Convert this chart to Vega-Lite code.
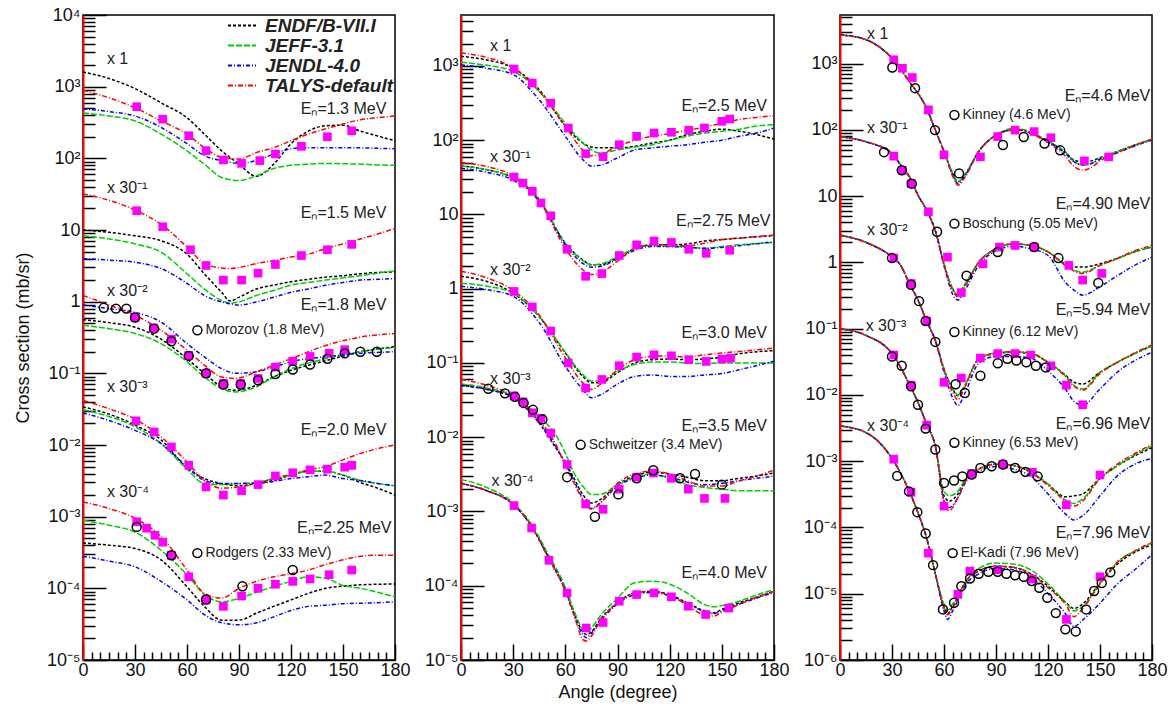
{
"$schema":"https://vega.github.io/schema/vega-lite/v6.json",
"padding":{"left":13,"top":5,"right":2,"bottom":2},
"background":"white",
"datasets":{
"curves":[
{"p":1,"e":"1.3","a":0,"E":1600,"J":430,"D":490,"T":890},
{"p":1,"e":"1.3","a":15,"E":1300,"J":390,"D":450,"T":700},
{"p":1,"e":"1.3","a":30,"E":940,"J":333,"D":390,"T":507},
{"p":1,"e":"1.3","a":45,"E":595,"J":218,"D":270,"T":333},
{"p":1,"e":"1.3","a":60,"E":368,"J":127,"D":160,"T":218},
{"p":1,"e":"1.3","a":70,"E":218,"J":83,"D":109,"T":141},
{"p":1,"e":"1.3","a":80,"E":127,"J":54,"D":93,"T":103},
{"p":1,"e":"1.3","a":90,"E":83,"J":49,"D":85,"T":98},
{"p":1,"e":"1.3","a":100,"E":56,"J":57,"D":93,"T":120},
{"p":1,"e":"1.3","a":110,"E":83,"J":72,"D":115,"T":141},
{"p":1,"e":"1.3","a":120,"E":160,"J":80,"D":136,"T":176},
{"p":1,"e":"1.3","a":130,"E":240,"J":83,"D":141,"T":218},
{"p":1,"e":"1.3","a":140,"E":285,"J":85,"D":141,"T":258},
{"p":1,"e":"1.3","a":150,"E":290,"J":84,"D":141,"T":302},
{"p":1,"e":"1.3","a":160,"E":240,"J":83,"D":140,"T":345},
{"p":1,"e":"1.3","a":170,"E":205,"J":81,"D":138,"T":370},
{"p":1,"e":"1.3","a":180,"E":176,"J":80,"D":136,"T":390},
{"p":1,"e":"1.5","a":0,"E":10,"J":8.3,"D":4.0,"T":32},
{"p":1,"e":"1.5","a":15,"E":9.3,"J":7.5,"D":3.8,"T":26},
{"p":1,"e":"1.5","a":30,"E":8.3,"J":6.4,"D":3.55,"T":19},
{"p":1,"e":"1.5","a":45,"E":7.1,"J":4.9,"D":2.9,"T":12},
{"p":1,"e":"1.5","a":60,"E":4.6,"J":2.45,"D":1.8,"T":5.8},
{"p":1,"e":"1.5","a":70,"E":2.45,"J":1.5,"D":1.22,"T":3.4},
{"p":1,"e":"1.5","a":80,"E":1.35,"J":1.04,"D":0.99,"T":2.95},
{"p":1,"e":"1.5","a":85,"E":1.02,"J":0.95,"D":0.93,"T":2.9},
{"p":1,"e":"1.5","a":90,"E":1.15,"J":0.99,"D":0.9,"T":3.0},
{"p":1,"e":"1.5","a":100,"E":1.5,"J":1.22,"D":0.99,"T":3.4},
{"p":1,"e":"1.5","a":110,"E":1.7,"J":1.43,"D":1.15,"T":3.75},
{"p":1,"e":"1.5","a":120,"E":1.9,"J":1.7,"D":1.35,"T":4.2},
{"p":1,"e":"1.5","a":130,"E":2.05,"J":1.85,"D":1.5,"T":4.6},
{"p":1,"e":"1.5","a":140,"E":2.2,"J":2.0,"D":1.7,"T":5.5},
{"p":1,"e":"1.5","a":150,"E":2.3,"J":2.15,"D":1.85,"T":6.4},
{"p":1,"e":"1.5","a":160,"E":2.45,"J":2.3,"D":2.0,"T":7.5},
{"p":1,"e":"1.5","a":170,"E":2.55,"J":2.5,"D":2.05,"T":8.8},
{"p":1,"e":"1.5","a":180,"E":2.6,"J":2.7,"D":2.1,"T":10.5},
{"p":1,"e":"1.8","a":0,"E":0.56,"J":0.47,"D":0.9,"T":1.22},
{"p":1,"e":"1.8","a":15,"E":0.51,"J":0.42,"D":0.8,"T":0.9},
{"p":1,"e":"1.8","a":30,"E":0.44,"J":0.36,"D":0.71,"T":0.65},
{"p":1,"e":"1.8","a":45,"E":0.30,"J":0.26,"D":0.52,"T":0.40},
{"p":1,"e":"1.8","a":60,"E":0.16,"J":0.145,"D":0.26,"T":0.21},
{"p":1,"e":"1.8","a":70,"E":0.10,"J":0.089,"D":0.17,"T":0.13},
{"p":1,"e":"1.8","a":80,"E":0.065,"J":0.061,"D":0.116,"T":0.089},
{"p":1,"e":"1.8","a":88,"E":0.058,"J":0.055,"D":0.10,"T":0.085},
{"p":1,"e":"1.8","a":100,"E":0.068,"J":0.065,"D":0.105,"T":0.105},
{"p":1,"e":"1.8","a":110,"E":0.089,"J":0.089,"D":0.122,"T":0.13},
{"p":1,"e":"1.8","a":120,"E":0.11,"J":0.116,"D":0.145,"T":0.16},
{"p":1,"e":"1.8","a":140,"E":0.15,"J":0.16,"D":0.17,"T":0.245},
{"p":1,"e":"1.8","a":160,"E":0.2,"J":0.2,"D":0.19,"T":0.32},
{"p":1,"e":"1.8","a":180,"E":0.235,"J":0.23,"D":0.2,"T":0.36},
{"p":1,"e":"2.0","a":0,"E":0.034,"J":0.031,"D":0.028,"T":0.042},
{"p":1,"e":"2.0","a":15,"E":0.027,"J":0.025,"D":0.022,"T":0.032},
{"p":1,"e":"2.0","a":30,"E":0.019,"J":0.018,"D":0.016,"T":0.023},
{"p":1,"e":"2.0","a":45,"E":0.0118,"J":0.0105,"D":0.0105,"T":0.013},
{"p":1,"e":"2.0","a":60,"E":0.0048,"J":0.0046,"D":0.005,"T":0.0058},
{"p":1,"e":"2.0","a":70,"E":0.0034,"J":0.0029,"D":0.0032,"T":0.0032},
{"p":1,"e":"2.0","a":80,"E":0.0029,"J":0.0028,"D":0.0029,"T":0.0025},
{"p":1,"e":"2.0","a":90,"E":0.0027,"J":0.0029,"D":0.0029,"T":0.0026},
{"p":1,"e":"2.0","a":100,"E":0.0029,"J":0.003,"D":0.0029,"T":0.0029},
{"p":1,"e":"2.0","a":110,"E":0.0032,"J":0.0034,"D":0.0031,"T":0.0034},
{"p":1,"e":"2.0","a":120,"E":0.0038,"J":0.0038,"D":0.0034,"T":0.0039},
{"p":1,"e":"2.0","a":130,"E":0.0043,"J":0.0043,"D":0.0036,"T":0.0045},
{"p":1,"e":"2.0","a":140,"E":0.0043,"J":0.0043,"D":0.0038,"T":0.005},
{"p":1,"e":"2.0","a":150,"E":0.0038,"J":0.0038,"D":0.0034,"T":0.0062},
{"p":1,"e":"2.0","a":160,"E":0.003,"J":0.0032,"D":0.0032,"T":0.0076},
{"p":1,"e":"2.0","a":170,"E":0.0025,"J":0.0029,"D":0.0029,"T":0.0089},
{"p":1,"e":"2.0","a":180,"E":0.002,"J":0.0027,"D":0.0027,"T":0.01},
{"p":1,"e":"2.25","a":0,"E":4.3e-4,"J":8.9e-4,"D":2.8e-4,"T":1.6e-3},
{"p":1,"e":"2.25","a":15,"E":4.0e-4,"J":7.6e-4,"D":2.4e-4,"T":1.3e-3},
{"p":1,"e":"2.25","a":30,"E":3.6e-4,"J":6.1e-4,"D":2.0e-4,"T":9.5e-4},
{"p":1,"e":"2.25","a":45,"E":2.5e-4,"J":3.4e-4,"D":1.25e-4,"T":5.3e-4},
{"p":1,"e":"2.25","a":60,"E":1.05e-4,"J":1.55e-4,"D":6.9e-5,"T":1.8e-4},
{"p":1,"e":"2.25","a":70,"E":5.6e-5,"J":8.2e-5,"D":4.3e-5,"T":8.5e-5},
{"p":1,"e":"2.25","a":80,"E":3.6e-5,"J":6.5e-5,"D":3.3e-5,"T":7.3e-5},
{"p":1,"e":"2.25","a":90,"E":3.6e-5,"J":7.2e-5,"D":3.1e-5,"T":1.0e-4},
{"p":1,"e":"2.25","a":100,"E":4.5e-5,"J":8.8e-5,"D":3.3e-5,"T":1.25e-4},
{"p":1,"e":"2.25","a":110,"E":5.6e-5,"J":1.06e-4,"D":4.0e-5,"T":1.45e-4},
{"p":1,"e":"2.25","a":120,"E":6.9e-5,"J":1.25e-4,"D":4.9e-5,"T":1.6e-4},
{"p":1,"e":"2.25","a":130,"E":8.5e-5,"J":1.45e-4,"D":5.6e-5,"T":1.8e-4},
{"p":1,"e":"2.25","a":140,"E":1.0e-4,"J":1.38e-4,"D":5.8e-5,"T":2.15e-4},
{"p":1,"e":"2.25","a":150,"E":1.07e-4,"J":1.1e-4,"D":6.1e-5,"T":2.5e-4},
{"p":1,"e":"2.25","a":160,"E":1.12e-4,"J":1.0e-4,"D":6.2e-5,"T":2.8e-4},
{"p":1,"e":"2.25","a":170,"E":1.14e-4,"J":8.8e-5,"D":6.3e-5,"T":2.9e-4},
{"p":1,"e":"2.25","a":180,"E":1.15e-4,"J":7.6e-5,"D":6.5e-5,"T":2.9e-4},
{"p":2,"e":"2.5","a":0,"E":1350,"J":1120,"D":1040,"T":1500},
{"p":2,"e":"2.5","a":15,"E":1200,"J":1020,"D":930,"T":1300},
{"p":2,"e":"2.5","a":30,"E":940,"J":850,"D":765,"T":950},
{"p":2,"e":"2.5","a":45,"E":480,"J":455,"D":350,"T":455},
{"p":2,"e":"2.5","a":60,"E":155,"J":170,"D":113,"T":155},
{"p":2,"e":"2.5","a":70,"E":92,"J":92,"D":55,"T":74},
{"p":2,"e":"2.5","a":75,"E":81,"J":74,"D":45,"T":62},
{"p":2,"e":"2.5","a":80,"E":79,"J":67,"D":46,"T":64},
{"p":2,"e":"2.5","a":90,"E":79,"J":74,"D":58,"T":83},
{"p":2,"e":"2.5","a":100,"E":83,"J":81,"D":74,"T":100},
{"p":2,"e":"2.5","a":110,"E":92,"J":87,"D":79,"T":113},
{"p":2,"e":"2.5","a":120,"E":100,"J":100,"D":83,"T":123},
{"p":2,"e":"2.5","a":130,"E":119,"J":113,"D":87,"T":136},
{"p":2,"e":"2.5","a":140,"E":132,"J":125,"D":94,"T":150},
{"p":2,"e":"2.5","a":150,"E":141,"J":132,"D":100,"T":170},
{"p":2,"e":"2.5","a":160,"E":132,"J":141,"D":113,"T":190},
{"p":2,"e":"2.5","a":170,"E":119,"J":155,"D":125,"T":203},
{"p":2,"e":"2.5","a":180,"E":104,"J":162,"D":146,"T":214},
{"p":2,"e":"2.75","a":0,"E":45,"J":45,"D":42,"T":50},
{"p":2,"e":"2.75","a":15,"E":40,"J":40,"D":37,"T":44},
{"p":2,"e":"2.75","a":30,"E":31,"J":31,"D":29,"T":33},
{"p":2,"e":"2.75","a":45,"E":15.8,"J":16,"D":15,"T":15.5},
{"p":2,"e":"2.75","a":60,"E":4.1,"J":4.1,"D":3.9,"T":3.5},
{"p":2,"e":"2.75","a":70,"E":2.45,"J":2.4,"D":2.2,"T":1.8},
{"p":2,"e":"2.75","a":75,"E":2.1,"J":2.1,"D":1.95,"T":1.55},
{"p":2,"e":"2.75","a":80,"E":2.1,"J":2.15,"D":2.0,"T":1.63},
{"p":2,"e":"2.75","a":90,"E":2.6,"J":2.7,"D":2.5,"T":2.35},
{"p":2,"e":"2.75","a":100,"E":3.5,"J":3.5,"D":3.3,"T":3.5},
{"p":2,"e":"2.75","a":110,"E":3.9,"J":3.8,"D":3.7,"T":3.9},
{"p":2,"e":"2.75","a":120,"E":3.9,"J":3.7,"D":3.7,"T":3.9},
{"p":2,"e":"2.75","a":130,"E":4.0,"J":3.7,"D":3.6,"T":3.8},
{"p":2,"e":"2.75","a":140,"E":4.4,"J":3.5,"D":3.5,"T":4.1},
{"p":2,"e":"2.75","a":150,"E":4.6,"J":3.7,"D":3.6,"T":4.6},
{"p":2,"e":"2.75","a":160,"E":4.8,"J":3.9,"D":3.8,"T":4.8},
{"p":2,"e":"2.75","a":180,"E":5.2,"J":4.2,"D":4.3,"T":5.3},
{"p":2,"e":"3.0","a":0,"E":1.47,"J":1.19,"D":1.08,"T":1.72},
{"p":2,"e":"3.0","a":15,"E":1.25,"J":1.08,"D":0.97,"T":1.4},
{"p":2,"e":"3.0","a":30,"E":0.87,"J":0.87,"D":0.79,"T":0.95},
{"p":2,"e":"3.0","a":45,"E":0.42,"J":0.42,"D":0.35,"T":0.44},
{"p":2,"e":"3.0","a":60,"E":0.136,"J":0.14,"D":0.09,"T":0.117},
{"p":2,"e":"3.0","a":70,"E":0.066,"J":0.07,"D":0.044,"T":0.054},
{"p":2,"e":"3.0","a":75,"E":0.054,"J":0.057,"D":0.034,"T":0.044},
{"p":2,"e":"3.0","a":80,"E":0.054,"J":0.057,"D":0.037,"T":0.051},
{"p":2,"e":"3.0","a":90,"E":0.074,"J":0.077,"D":0.052,"T":0.081},
{"p":2,"e":"3.0","a":100,"E":0.1,"J":0.096,"D":0.066,"T":0.111},
{"p":2,"e":"3.0","a":110,"E":0.111,"J":0.103,"D":0.069,"T":0.123},
{"p":2,"e":"3.0","a":120,"E":0.113,"J":0.103,"D":0.066,"T":0.125},
{"p":2,"e":"3.0","a":130,"E":0.111,"J":0.1,"D":0.066,"T":0.12},
{"p":2,"e":"3.0","a":140,"E":0.113,"J":0.098,"D":0.069,"T":0.129},
{"p":2,"e":"3.0","a":150,"E":0.12,"J":0.1,"D":0.072,"T":0.136},
{"p":2,"e":"3.0","a":160,"E":0.133,"J":0.1,"D":0.081,"T":0.143},
{"p":2,"e":"3.0","a":180,"E":0.147,"J":0.1,"D":0.106,"T":0.159},
{"p":2,"e":"3.5","a":0,"E":0.05,"J":0.052,"D":0.05,"T":0.06},
{"p":2,"e":"3.5","a":15,"E":0.044,"J":0.046,"D":0.044,"T":0.05},
{"p":2,"e":"3.5","a":30,"E":0.034,"J":0.036,"D":0.035,"T":0.036},
{"p":2,"e":"3.5","a":45,"E":0.0155,"J":0.019,"D":0.016,"T":0.017},
{"p":2,"e":"3.5","a":55,"E":0.0069,"J":0.0103,"D":0.0072,"T":0.0076},
{"p":2,"e":"3.5","a":60,"E":0.0046,"J":0.0061,"D":0.0045,"T":0.0041},
{"p":2,"e":"3.5","a":65,"E":0.0028,"J":0.0033,"D":0.0026,"T":0.0024},
{"p":2,"e":"3.5","a":70,"E":0.0017,"J":0.0022,"D":0.0015,"T":0.00144},
{"p":2,"e":"3.5","a":75,"E":0.0013,"J":0.0017,"D":0.0011,"T":0.00107},
{"p":2,"e":"3.5","a":80,"E":0.00144,"J":0.0017,"D":0.0013,"T":0.0013},
{"p":2,"e":"3.5","a":90,"E":0.0023,"J":0.0023,"D":0.0022,"T":0.0024},
{"p":2,"e":"3.5","a":100,"E":0.003,"J":0.0029,"D":0.0028,"T":0.0032},
{"p":2,"e":"3.5","a":110,"E":0.0034,"J":0.0032,"D":0.0031,"T":0.0035},
{"p":2,"e":"3.5","a":120,"E":0.0032,"J":0.0028,"D":0.0029,"T":0.0032},
{"p":2,"e":"3.5","a":130,"E":0.0029,"J":0.0023,"D":0.0025,"T":0.0026},
{"p":2,"e":"3.5","a":140,"E":0.0026,"J":0.0021,"D":0.0023,"T":0.0022},
{"p":2,"e":"3.5","a":150,"E":0.0026,"J":0.002,"D":0.0024,"T":0.0022},
{"p":2,"e":"3.5","a":160,"E":0.0028,"J":0.0019,"D":0.0026,"T":0.0026},
{"p":2,"e":"3.5","a":170,"E":0.003,"J":0.0019,"D":0.0028,"T":0.003},
{"p":2,"e":"3.5","a":180,"E":0.0033,"J":0.0019,"D":0.003,"T":0.0036},
{"p":2,"e":"4.0","a":0,"E":0.0024,"J":0.0027,"D":0.0024,"T":0.0024},
{"p":2,"e":"4.0","a":15,"E":0.0019,"J":0.0021,"D":0.0019,"T":0.0019},
{"p":2,"e":"4.0","a":30,"E":0.00125,"J":0.0013,"D":0.00125,"T":0.00125},
{"p":2,"e":"4.0","a":40,"E":6.6e-4,"J":7e-4,"D":6.6e-4,"T":6.6e-4},
{"p":2,"e":"4.0","a":50,"E":2.5e-4,"J":2.7e-4,"D":2.5e-4,"T":2.4e-4},
{"p":2,"e":"4.0","a":60,"E":8.9e-5,"J":9.5e-5,"D":8.5e-5,"T":8.5e-5},
{"p":2,"e":"4.0","a":65,"E":4.3e-5,"J":4.6e-5,"D":4.1e-5,"T":4.0e-5},
{"p":2,"e":"4.0","a":70,"E":2.4e-5,"J":2.6e-5,"D":2.2e-5,"T":1.9e-5},
{"p":2,"e":"4.0","a":72,"E":2.2e-5,"J":2.4e-5,"D":2.0e-5,"T":1.8e-5},
{"p":2,"e":"4.0","a":75,"E":2.4e-5,"J":2.7e-5,"D":2.3e-5,"T":2.1e-5},
{"p":2,"e":"4.0","a":80,"E":3.5e-5,"J":3.9e-5,"D":3.3e-5,"T":3.3e-5},
{"p":2,"e":"4.0","a":90,"E":5.9e-5,"J":6.8e-5,"D":5.7e-5,"T":6.0e-5},
{"p":2,"e":"4.0","a":100,"E":8e-5,"J":1.1e-4,"D":7.6e-5,"T":8e-5},
{"p":2,"e":"4.0","a":110,"E":8.4e-5,"J":1.15e-4,"D":8.1e-5,"T":8.4e-5},
{"p":2,"e":"4.0","a":120,"E":7.6e-5,"J":1.05e-4,"D":7.3e-5,"T":7.4e-5},
{"p":2,"e":"4.0","a":130,"E":5.9e-5,"J":8e-5,"D":5.7e-5,"T":5.5e-5},
{"p":2,"e":"4.0","a":140,"E":4.6e-5,"J":5.6e-5,"D":4.5e-5,"T":4.0e-5},
{"p":2,"e":"4.0","a":145,"E":4.3e-5,"J":5.2e-5,"D":4.2e-5,"T":3.9e-5},
{"p":2,"e":"4.0","a":150,"E":4.8e-5,"J":5.4e-5,"D":4.6e-5,"T":4.4e-5},
{"p":2,"e":"4.0","a":160,"E":5.9e-5,"J":6.2e-5,"D":5.7e-5,"T":5.6e-5},
{"p":2,"e":"4.0","a":170,"E":7e-5,"J":7.5e-5,"D":6.8e-5,"T":7e-5},
{"p":2,"e":"4.0","a":180,"E":8.4e-5,"J":8.9e-5,"D":8.2e-5,"T":8.4e-5},
{"p":3,"e":"4.6","a":0,"E":2700,"J":2700,"D":2750,"T":2700},
{"p":3,"e":"4.6","a":15,"E":2290,"J":2290,"D":2290,"T":2290},
{"p":3,"e":"4.6","a":30,"E":1200,"J":1200,"D":1200,"T":1200},
{"p":3,"e":"4.6","a":40,"E":534,"J":534,"D":534,"T":534},
{"p":3,"e":"4.6","a":50,"E":210,"J":210,"D":210,"T":210},
{"p":3,"e":"4.6","a":55,"E":99,"J":99,"D":99,"T":99},
{"p":3,"e":"4.6","a":60,"E":47,"J":47,"D":47,"T":47},
{"p":3,"e":"4.6","a":65,"E":22,"J":22,"D":21,"T":20},
{"p":3,"e":"4.6","a":68,"E":16.4,"J":16.4,"D":15.5,"T":14.6},
{"p":3,"e":"4.6","a":72,"E":21,"J":21,"D":20,"T":19},
{"p":3,"e":"4.6","a":80,"E":47,"J":47,"D":47,"T":47},
{"p":3,"e":"4.6","a":90,"E":83,"J":83,"D":83,"T":83},
{"p":3,"e":"4.6","a":100,"E":99,"J":105,"D":99,"T":99},
{"p":3,"e":"4.6","a":105,"E":99,"J":102,"D":99,"T":99},
{"p":3,"e":"4.6","a":110,"E":89,"J":92,"D":89,"T":89},
{"p":3,"e":"4.6","a":120,"E":66,"J":68,"D":66,"T":64},
{"p":3,"e":"4.6","a":130,"E":46,"J":46,"D":44,"T":40},
{"p":3,"e":"4.6","a":135,"E":35,"J":33,"D":33,"T":28},
{"p":3,"e":"4.6","a":140,"E":33,"J":29.5,"D":29.5,"T":24.6},
{"p":3,"e":"4.6","a":145,"E":34,"J":31,"D":31,"T":27},
{"p":3,"e":"4.6","a":150,"E":38,"J":37,"D":36,"T":34},
{"p":3,"e":"4.6","a":160,"E":47,"J":47,"D":45,"T":45},
{"p":3,"e":"4.6","a":170,"E":59,"J":59,"D":57,"T":58},
{"p":3,"e":"4.6","a":180,"E":72,"J":72,"D":70,"T":72},
{"p":3,"e":"4.90","a":0,"E":79,"J":79,"D":79,"T":79},
{"p":3,"e":"4.90","a":15,"E":66,"J":66,"D":66,"T":66},
{"p":3,"e":"4.90","a":30,"E":44,"J":44,"D":44,"T":44},
{"p":3,"e":"4.90","a":35,"E":29.5,"J":29.5,"D":29.5,"T":29.5},
{"p":3,"e":"4.90","a":40,"E":19.6,"J":19.6,"D":19.6,"T":19.6},
{"p":3,"e":"4.90","a":45,"E":10.3,"J":10.3,"D":10.3,"T":10.3},
{"p":3,"e":"4.90","a":50,"E":6.1,"J":6.1,"D":6.1,"T":6.1},
{"p":3,"e":"4.90","a":55,"E":3.0,"J":3.0,"D":3.0,"T":3.0},
{"p":3,"e":"4.90","a":60,"E":0.95,"J":0.95,"D":0.9,"T":0.9},
{"p":3,"e":"4.90","a":65,"E":0.4,"J":0.4,"D":0.33,"T":0.38},
{"p":3,"e":"4.90","a":68,"E":0.32,"J":0.33,"D":0.27,"T":0.3},
{"p":3,"e":"4.90","a":72,"E":0.45,"J":0.47,"D":0.38,"T":0.43},
{"p":3,"e":"4.90","a":80,"E":1.0,"J":1.0,"D":0.9,"T":1.0},
{"p":3,"e":"4.90","a":90,"E":1.6,"J":1.6,"D":1.5,"T":1.6},
{"p":3,"e":"4.90","a":100,"E":1.9,"J":1.9,"D":1.75,"T":1.9},
{"p":3,"e":"4.90","a":110,"E":1.8,"J":1.8,"D":1.6,"T":1.8},
{"p":3,"e":"4.90","a":120,"E":1.44,"J":1.44,"D":1.27,"T":1.44},
{"p":3,"e":"4.90","a":130,"E":0.95,"J":0.9,"D":0.5,"T":0.9},
{"p":3,"e":"4.90","a":135,"E":0.85,"J":0.76,"D":0.38,"T":0.74},
{"p":3,"e":"4.90","a":140,"E":0.85,"J":0.71,"D":0.32,"T":0.68},
{"p":3,"e":"4.90","a":150,"E":0.95,"J":0.9,"D":0.43,"T":0.9},
{"p":3,"e":"4.90","a":160,"E":1.15,"J":1.13,"D":0.63,"T":1.15},
{"p":3,"e":"4.90","a":170,"E":1.44,"J":1.44,"D":0.9,"T":1.5},
{"p":3,"e":"4.90","a":180,"E":1.7,"J":1.7,"D":1.2,"T":1.8},
{"p":3,"e":"5.94","a":0,"E":2.57,"J":2.57,"D":2.57,"T":2.57},
{"p":3,"e":"5.94","a":15,"E":2.0,"J":2.0,"D":2.0,"T":2.0},
{"p":3,"e":"5.94","a":30,"E":1.2,"J":1.2,"D":1.2,"T":1.2},
{"p":3,"e":"5.94","a":35,"E":0.9,"J":0.9,"D":0.9,"T":0.9},
{"p":3,"e":"5.94","a":40,"E":0.48,"J":0.48,"D":0.48,"T":0.48},
{"p":3,"e":"5.94","a":45,"E":0.27,"J":0.27,"D":0.27,"T":0.27},
{"p":3,"e":"5.94","a":50,"E":0.13,"J":0.13,"D":0.13,"T":0.13},
{"p":3,"e":"5.94","a":55,"E":0.066,"J":0.066,"D":0.066,"T":0.066},
{"p":3,"e":"5.94","a":60,"E":0.0245,"J":0.0245,"D":0.022,"T":0.024},
{"p":3,"e":"5.94","a":65,"E":0.0122,"J":0.0125,"D":0.009,"T":0.011},
{"p":3,"e":"5.94","a":68,"E":0.0097,"J":0.01,"D":0.0069,"T":0.0085},
{"p":3,"e":"5.94","a":72,"E":0.0138,"J":0.014,"D":0.0105,"T":0.013},
{"p":3,"e":"5.94","a":80,"E":0.035,"J":0.035,"D":0.03,"T":0.035},
{"p":3,"e":"5.94","a":90,"E":0.042,"J":0.043,"D":0.038,"T":0.043},
{"p":3,"e":"5.94","a":100,"E":0.044,"J":0.045,"D":0.038,"T":0.045},
{"p":3,"e":"5.94","a":110,"E":0.042,"J":0.042,"D":0.036,"T":0.043},
{"p":3,"e":"5.94","a":120,"E":0.031,"J":0.031,"D":0.023,"T":0.031},
{"p":3,"e":"5.94","a":130,"E":0.02,"J":0.0195,"D":0.0123,"T":0.019},
{"p":3,"e":"5.94","a":135,"E":0.0155,"J":0.014,"D":0.008,"T":0.0135},
{"p":3,"e":"5.94","a":140,"E":0.0146,"J":0.0123,"D":0.007,"T":0.0118},
{"p":3,"e":"5.94","a":150,"E":0.022,"J":0.022,"D":0.0123,"T":0.021},
{"p":3,"e":"5.94","a":160,"E":0.031,"J":0.031,"D":0.022,"T":0.031},
{"p":3,"e":"5.94","a":170,"E":0.042,"J":0.042,"D":0.033,"T":0.043},
{"p":3,"e":"5.94","a":180,"E":0.055,"J":0.055,"D":0.044,"T":0.057},
{"p":3,"e":"6.96","a":0,"E":0.1,"J":0.1,"D":0.1,"T":0.1},
{"p":3,"e":"6.96","a":15,"E":0.079,"J":0.079,"D":0.079,"T":0.079},
{"p":3,"e":"6.96","a":30,"E":0.042,"J":0.042,"D":0.042,"T":0.042},
{"p":3,"e":"6.96","a":40,"E":0.0145,"J":0.0145,"D":0.0145,"T":0.0145},
{"p":3,"e":"6.96","a":45,"E":0.0077,"J":0.0077,"D":0.0077,"T":0.0077},
{"p":3,"e":"6.96","a":50,"E":0.0036,"J":0.0036,"D":0.0036,"T":0.0036},
{"p":3,"e":"6.96","a":55,"E":0.0017,"J":0.0017,"D":0.0017,"T":0.0017},
{"p":3,"e":"6.96","a":60,"E":3.0e-4,"J":3.5e-4,"D":2.5e-4,"T":2.5e-4},
{"p":3,"e":"6.96","a":63,"E":2.5e-4,"J":3.0e-4,"D":2.0e-4,"T":1.8e-4},
{"p":3,"e":"6.96","a":68,"E":3.2e-4,"J":3.5e-4,"D":2.8e-4,"T":2.8e-4},
{"p":3,"e":"6.96","a":72,"E":5e-4,"J":5.2e-4,"D":4.6e-4,"T":4.8e-4},
{"p":3,"e":"6.96","a":80,"E":7.6e-4,"J":7.6e-4,"D":7e-4,"T":7.6e-4},
{"p":3,"e":"6.96","a":90,"E":9e-4,"J":9e-4,"D":8.3e-4,"T":9e-4},
{"p":3,"e":"6.96","a":100,"E":8.6e-4,"J":8.6e-4,"D":7.6e-4,"T":8.6e-4},
{"p":3,"e":"6.96","a":110,"E":6.8e-4,"J":7e-4,"D":5.9e-4,"T":6.8e-4},
{"p":3,"e":"6.96","a":120,"E":4.5e-4,"J":4.5e-4,"D":3.2e-4,"T":4.3e-4},
{"p":3,"e":"6.96","a":130,"E":2.9e-4,"J":2.6e-4,"D":1.6e-4,"T":2.5e-4},
{"p":3,"e":"6.96","a":135,"E":3.0e-4,"J":2.3e-4,"D":1.3e-4,"T":2.1e-4},
{"p":3,"e":"6.96","a":140,"E":3.2e-4,"J":2.7e-4,"D":1.5e-4,"T":2.5e-4},
{"p":3,"e":"6.96","a":150,"E":5.5e-4,"J":5.5e-4,"D":3e-4,"T":5.5e-4},
{"p":3,"e":"6.96","a":160,"E":8.5e-4,"J":8.5e-4,"D":6.0e-4,"T":9e-4},
{"p":3,"e":"6.96","a":170,"E":1.2e-3,"J":1.25e-3,"D":9e-4,"T":1.3e-3},
{"p":3,"e":"6.96","a":180,"E":1.6e-3,"J":1.7e-3,"D":1.1e-3,"T":1.8e-3},
{"p":3,"e":"7.96","a":0,"E":3.4e-3,"J":3.4e-3,"D":3.4e-3,"T":3.4e-3},
{"p":3,"e":"7.96","a":15,"E":2.7e-3,"J":2.7e-3,"D":2.7e-3,"T":2.7e-3},
{"p":3,"e":"7.96","a":30,"E":1.1e-3,"J":1.1e-3,"D":1.1e-3,"T":1.1e-3},
{"p":3,"e":"7.96","a":40,"E":3.5e-4,"J":3.5e-4,"D":3.5e-4,"T":3.5e-4},
{"p":3,"e":"7.96","a":45,"E":1.66e-4,"J":1.66e-4,"D":1.66e-4,"T":1.66e-4},
{"p":3,"e":"7.96","a":50,"E":6.9e-5,"J":6.9e-5,"D":6.9e-5,"T":6.9e-5},
{"p":3,"e":"7.96","a":55,"E":2.0e-5,"J":2.0e-5,"D":2.0e-5,"T":2.0e-5},
{"p":3,"e":"7.96","a":60,"E":6.4e-6,"J":7e-6,"D":5.5e-6,"T":6e-6},
{"p":3,"e":"7.96","a":62,"E":5.0e-6,"J":5.6e-6,"D":4.1e-6,"T":4.8e-6},
{"p":3,"e":"7.96","a":65,"E":6.5e-6,"J":7e-6,"D":5.5e-6,"T":6e-6},
{"p":3,"e":"7.96","a":68,"E":9.1e-6,"J":9.1e-6,"D":8e-6,"T":9.1e-6},
{"p":3,"e":"7.96","a":72,"E":1.45e-5,"J":1.45e-5,"D":1.3e-5,"T":1.45e-5},
{"p":3,"e":"7.96","a":80,"E":2.2e-5,"J":2.4e-5,"D":2.0e-5,"T":2.2e-5},
{"p":3,"e":"7.96","a":90,"E":2.6e-5,"J":2.9e-5,"D":2.4e-5,"T":2.6e-5},
{"p":3,"e":"7.96","a":100,"E":2.5e-5,"J":2.8e-5,"D":2.3e-5,"T":2.5e-5},
{"p":3,"e":"7.96","a":110,"E":2.0e-5,"J":2.3e-5,"D":1.8e-5,"T":2.0e-5},
{"p":3,"e":"7.96","a":120,"E":1.3e-5,"J":1.4e-5,"D":1.0e-5,"T":1.23e-5},
{"p":3,"e":"7.96","a":130,"E":7.5e-6,"J":7.5e-6,"D":5e-6,"T":7e-6},
{"p":3,"e":"7.96","a":135,"E":6.0e-6,"J":5.5e-6,"D":3.2e-6,"T":4.5e-6},
{"p":3,"e":"7.96","a":140,"E":7.0e-6,"J":6.4e-6,"D":4e-6,"T":6e-6},
{"p":3,"e":"7.96","a":150,"E":1.45e-5,"J":1.45e-5,"D":7.2e-6,"T":1.4e-5},
{"p":3,"e":"7.96","a":160,"E":2.8e-5,"J":3e-5,"D":1.4e-5,"T":3e-5},
{"p":3,"e":"7.96","a":170,"E":4.2e-5,"J":4.4e-5,"D":2.3e-5,"T":4.4e-5},
{"p":3,"e":"7.96","a":180,"E":5.5e-5,"J":5.9e-5,"D":3.9e-5,"T":5.9e-5}
],
"exp":[
{"p":1,"t":"s","a":31,"v":525},{"p":1,"t":"s","a":46,"v":352},{"p":1,"t":"s","a":61,"v":207},{"p":1,"t":"s","a":71,"v":128},{"p":1,"t":"s","a":81,"v":95},{"p":1,"t":"s","a":91.5,"v":85},{"p":1,"t":"s","a":102,"v":93},{"p":1,"t":"s","a":111,"v":115},{"p":1,"t":"s","a":126,"v":147},{"p":1,"t":"s","a":141,"v":200},{"p":1,"t":"s","a":155,"v":242},
{"p":1,"t":"s","a":31,"v":18.6},{"p":1,"t":"s","a":46,"v":11.1},{"p":1,"t":"s","a":62,"v":5.3},{"p":1,"t":"s","a":71,"v":3.2},{"p":1,"t":"s","a":81,"v":2.0},{"p":1,"t":"s","a":91.5,"v":2.0},{"p":1,"t":"s","a":101,"v":2.5},{"p":1,"t":"s","a":111,"v":3.3},{"p":1,"t":"s","a":126,"v":4.4},{"p":1,"t":"s","a":141,"v":5.3},{"p":1,"t":"s","a":155,"v":6.3},
{"p":1,"t":"s","a":30,"v":0.6},{"p":1,"t":"s","a":40.6,"v":0.43},{"p":1,"t":"s","a":51,"v":0.30},{"p":1,"t":"s","a":61,"v":0.178},{"p":1,"t":"s","a":71,"v":0.10},{"p":1,"t":"s","a":81,"v":0.072},{"p":1,"t":"s","a":91,"v":0.072},{"p":1,"t":"s","a":101,"v":0.085},{"p":1,"t":"s","a":111,"v":0.122},{"p":1,"t":"s","a":121,"v":0.148},{"p":1,"t":"s","a":131,"v":0.172},{"p":1,"t":"s","a":142,"v":0.19},{"p":1,"t":"s","a":151,"v":0.214},
{"p":1,"t":"c","a":12,"v":0.82},{"p":1,"t":"c","a":19,"v":0.8},{"p":1,"t":"c","a":25,"v":0.8},{"p":1,"t":"c","a":30,"v":0.6},{"p":1,"t":"c","a":41,"v":0.42},{"p":1,"t":"c","a":51,"v":0.28},{"p":1,"t":"c","a":61,"v":0.175},{"p":1,"t":"c","a":71,"v":0.1},{"p":1,"t":"c","a":81,"v":0.07},{"p":1,"t":"c","a":91,"v":0.07},{"p":1,"t":"c","a":101,"v":0.08},{"p":1,"t":"c","a":111,"v":0.098},{"p":1,"t":"c","a":121,"v":0.113},{"p":1,"t":"c","a":131,"v":0.133},{"p":1,"t":"c","a":141,"v":0.16},{"p":1,"t":"c","a":151,"v":0.19},{"p":1,"t":"c","a":160,"v":0.2},{"p":1,"t":"c","a":169.5,"v":0.2},
{"p":1,"t":"s","a":30.6,"v":0.0217},{"p":1,"t":"s","a":41,"v":0.0152},{"p":1,"t":"s","a":51,"v":0.0094},{"p":1,"t":"s","a":61,"v":0.0052},{"p":1,"t":"s","a":71,"v":0.0026},{"p":1,"t":"s","a":81,"v":0.002},{"p":1,"t":"s","a":91.5,"v":0.0023},{"p":1,"t":"s","a":101,"v":0.0028},{"p":1,"t":"s","a":111,"v":0.0037},{"p":1,"t":"s","a":121,"v":0.0041},{"p":1,"t":"s","a":131,"v":0.0045},{"p":1,"t":"s","a":141,"v":0.0046},{"p":1,"t":"s","a":151,"v":0.0049},{"p":1,"t":"s","a":155,"v":0.0052},
{"p":1,"t":"s","a":31,"v":8.5e-4},{"p":1,"t":"s","a":36.7,"v":6.9e-4},{"p":1,"t":"s","a":41.5,"v":5.5e-4},{"p":1,"t":"s","a":46,"v":4.4e-4},{"p":1,"t":"s","a":51,"v":2.9e-4},{"p":1,"t":"s","a":61,"v":1.45e-4},{"p":1,"t":"s","a":71,"v":6.9e-5},{"p":1,"t":"s","a":81,"v":5.6e-5},{"p":1,"t":"s","a":91.5,"v":7.8e-5},{"p":1,"t":"s","a":101,"v":1.0e-4},{"p":1,"t":"s","a":111,"v":1.14e-4},{"p":1,"t":"s","a":121,"v":1.25e-4},{"p":1,"t":"s","a":131,"v":1.35e-4},{"p":1,"t":"s","a":142,"v":1.55e-4},{"p":1,"t":"s","a":155,"v":1.8e-4},
{"p":1,"t":"c","a":31,"v":7.2e-4},{"p":1,"t":"c","a":51,"v":2.9e-4},{"p":1,"t":"c","a":71,"v":7e-5},{"p":1,"t":"c","a":92,"v":1.07e-4},{"p":1,"t":"c","a":121,"v":1.8e-4},
{"p":2,"t":"s","a":30.5,"v":910},{"p":2,"t":"s","a":41,"v":590},{"p":2,"t":"s","a":51.6,"v":316},{"p":2,"t":"s","a":61.7,"v":146},{"p":2,"t":"s","a":71.7,"v":66},{"p":2,"t":"s","a":81.7,"v":60},{"p":2,"t":"s","a":91,"v":87},{"p":2,"t":"s","a":101,"v":113},{"p":2,"t":"s","a":111,"v":125},{"p":2,"t":"s","a":121,"v":128},{"p":2,"t":"s","a":131,"v":136},{"p":2,"t":"s","a":140,"v":146},{"p":2,"t":"s","a":150,"v":180},{"p":2,"t":"s","a":154.5,"v":193},
{"p":2,"t":"s","a":30.5,"v":32},{"p":2,"t":"s","a":35.6,"v":26.5},{"p":2,"t":"s","a":41,"v":20.5},{"p":2,"t":"s","a":46,"v":14.3},{"p":2,"t":"s","a":51.6,"v":9.6},{"p":2,"t":"s","a":61,"v":3.4},{"p":2,"t":"s","a":71.7,"v":1.47},{"p":2,"t":"s","a":81,"v":1.6},{"p":2,"t":"s","a":91,"v":2.8},{"p":2,"t":"s","a":101,"v":3.9},{"p":2,"t":"s","a":111,"v":4.4},{"p":2,"t":"s","a":121,"v":4.2},{"p":2,"t":"s","a":131,"v":3.4},{"p":2,"t":"s","a":141,"v":3.0},{"p":2,"t":"s","a":154.5,"v":3.3},
{"p":2,"t":"s","a":30.5,"v":0.92},{"p":2,"t":"s","a":41,"v":0.57},{"p":2,"t":"s","a":51.6,"v":0.27},{"p":2,"t":"s","a":61.7,"v":0.1},{"p":2,"t":"s","a":71.7,"v":0.046},{"p":2,"t":"s","a":81,"v":0.06},{"p":2,"t":"s","a":91,"v":0.092},{"p":2,"t":"s","a":101,"v":0.12},{"p":2,"t":"s","a":111,"v":0.129},{"p":2,"t":"s","a":121,"v":0.125},{"p":2,"t":"s","a":131,"v":0.111},{"p":2,"t":"s","a":141,"v":0.105},{"p":2,"t":"s","a":150,"v":0.113},{"p":2,"t":"s","a":155,"v":0.116},
{"p":2,"t":"s","a":30.5,"v":0.036},{"p":2,"t":"s","a":35.6,"v":0.030},{"p":2,"t":"s","a":41,"v":0.0213},{"p":2,"t":"s","a":46,"v":0.018},{"p":2,"t":"s","a":51.6,"v":0.0114},{"p":2,"t":"s","a":61,"v":0.0043},{"p":2,"t":"s","a":71.7,"v":0.00126},{"p":2,"t":"s","a":81.7,"v":0.00107},{"p":2,"t":"s","a":91,"v":0.002},{"p":2,"t":"s","a":101,"v":0.0029},{"p":2,"t":"s","a":110.6,"v":0.0033},{"p":2,"t":"s","a":121,"v":0.0028},{"p":2,"t":"s","a":130.7,"v":0.002},{"p":2,"t":"s","a":140,"v":0.0015},{"p":2,"t":"s","a":151.8,"v":0.0015},
{"p":2,"t":"c","a":15.7,"v":0.045},{"p":2,"t":"c","a":25.3,"v":0.039},{"p":2,"t":"c","a":31,"v":0.035},{"p":2,"t":"c","a":36,"v":0.029},{"p":2,"t":"c","a":41.4,"v":0.0234},{"p":2,"t":"c","a":46.8,"v":0.0174},{"p":2,"t":"c","a":61,"v":0.0029},{"p":2,"t":"c","a":77,"v":0.00085},{"p":2,"t":"c","a":90.5,"v":0.0017},{"p":2,"t":"c","a":101,"v":0.0028},{"p":2,"t":"c","a":110.6,"v":0.0036},{"p":2,"t":"c","a":126,"v":0.0028},{"p":2,"t":"c","a":134.6,"v":0.0032},{"p":2,"t":"c","a":150,"v":0.0023},
{"p":2,"t":"s","a":30.5,"v":0.0012},{"p":2,"t":"s","a":40.6,"v":6.0e-4},{"p":2,"t":"s","a":50.6,"v":2.2e-4},{"p":2,"t":"s","a":61,"v":8e-5},{"p":2,"t":"s","a":72,"v":2.7e-5},{"p":2,"t":"s","a":81.7,"v":3.2e-5},{"p":2,"t":"s","a":91,"v":6.2e-5},{"p":2,"t":"s","a":101,"v":7.6e-5},{"p":2,"t":"s","a":111,"v":8e-5},{"p":2,"t":"s","a":121,"v":7.1e-5},{"p":2,"t":"s","a":130.7,"v":5.3e-5},{"p":2,"t":"s","a":140.7,"v":4.1e-5},{"p":2,"t":"s","a":154,"v":5e-5},
{"p":3,"t":"s","a":31,"v":1140},{"p":3,"t":"s","a":36,"v":850},{"p":3,"t":"s","a":41.7,"v":614},{"p":3,"t":"s","a":51,"v":200},{"p":3,"t":"s","a":60,"v":42},{"p":3,"t":"s","a":81,"v":39},{"p":3,"t":"s","a":91,"v":79},{"p":3,"t":"s","a":101,"v":99},{"p":3,"t":"s","a":112,"v":94},{"p":3,"t":"s","a":121.6,"v":76},{"p":3,"t":"s","a":141,"v":34},{"p":3,"t":"s","a":155,"v":39},
{"p":3,"t":"c","a":30.2,"v":870},{"p":3,"t":"c","a":43.3,"v":425},{"p":3,"t":"c","a":54.8,"v":99},{"p":3,"t":"c","a":68.7,"v":22},{"p":3,"t":"c","a":94,"v":59},{"p":3,"t":"c","a":106,"v":78},{"p":3,"t":"c","a":118,"v":62},{"p":3,"t":"c","a":127,"v":49},
{"p":3,"t":"s","a":31,"v":40},{"p":3,"t":"s","a":36,"v":24.5},{"p":3,"t":"s","a":41,"v":15.4},{"p":3,"t":"s","a":51,"v":5.8},{"p":3,"t":"s","a":62,"v":1.2},{"p":3,"t":"s","a":70,"v":0.35},{"p":3,"t":"s","a":82.5,"v":0.95},{"p":3,"t":"s","a":92,"v":1.7},{"p":3,"t":"s","a":101,"v":1.8},{"p":3,"t":"s","a":112,"v":1.7},{"p":3,"t":"s","a":132,"v":0.9},{"p":3,"t":"s","a":140,"v":0.54},{"p":3,"t":"s","a":151,"v":0.68},
{"p":3,"t":"c","a":25.4,"v":46},{"p":3,"t":"c","a":35.6,"v":24.5},{"p":3,"t":"c","a":41.4,"v":15.4},{"p":3,"t":"c","a":56,"v":2.9},{"p":3,"t":"c","a":73,"v":0.63},{"p":3,"t":"c","a":91,"v":1.43},{"p":3,"t":"c","a":112,"v":1.7},{"p":3,"t":"c","a":126,"v":1.16},{"p":3,"t":"c","a":149,"v":0.49},
{"p":3,"t":"s","a":31,"v":1.16},{"p":3,"t":"s","a":41,"v":0.48},{"p":3,"t":"s","a":50,"v":0.13},{"p":3,"t":"s","a":60,"v":0.0155},{"p":3,"t":"s","a":70,"v":0.018},{"p":3,"t":"s","a":81,"v":0.036},{"p":3,"t":"s","a":91,"v":0.042},{"p":3,"t":"s","a":101,"v":0.042},{"p":3,"t":"s","a":110,"v":0.04},{"p":3,"t":"s","a":121.6,"v":0.0275},{"p":3,"t":"s","a":130.6,"v":0.014},{"p":3,"t":"s","a":140,"v":0.0071},
{"p":3,"t":"c","a":30,"v":1.16},{"p":3,"t":"c","a":41,"v":0.46},{"p":3,"t":"c","a":45.6,"v":0.26},{"p":3,"t":"c","a":49.4,"v":0.13},{"p":3,"t":"c","a":55,"v":0.063},{"p":3,"t":"c","a":66.7,"v":0.0145},{"p":3,"t":"c","a":72,"v":0.0107},{"p":3,"t":"c","a":81,"v":0.0195},{"p":3,"t":"c","a":91,"v":0.030},{"p":3,"t":"c","a":96.6,"v":0.035},{"p":3,"t":"c","a":101.8,"v":0.033},{"p":3,"t":"c","a":107.5,"v":0.031},{"p":3,"t":"c","a":113,"v":0.0275},{"p":3,"t":"c","a":118.7,"v":0.026},
{"p":3,"t":"s","a":31,"v":0.04},{"p":3,"t":"s","a":41,"v":0.014},{"p":3,"t":"s","a":50,"v":0.0035},{"p":3,"t":"s","a":60,"v":2.1e-4},{"p":3,"t":"s","a":76,"v":6.5e-4},{"p":3,"t":"s","a":94,"v":9e-4},{"p":3,"t":"s","a":111,"v":6.8e-4},{"p":3,"t":"s","a":130.6,"v":2.2e-4},{"p":3,"t":"s","a":150,"v":6.2e-4},
{"p":3,"t":"c","a":30,"v":0.038},{"p":3,"t":"c","a":35.6,"v":0.0275},{"p":3,"t":"c","a":41,"v":0.0135},{"p":3,"t":"c","a":45,"v":0.0071},{"p":3,"t":"c","a":49.4,"v":0.0031},{"p":3,"t":"c","a":55,"v":0.0015},{"p":3,"t":"c","a":60,"v":4.7e-4},{"p":3,"t":"c","a":65.8,"v":5.1e-4},{"p":3,"t":"c","a":70.6,"v":5.9e-4},{"p":3,"t":"c","a":76,"v":6.3e-4},{"p":3,"t":"c","a":81,"v":7.9e-4},{"p":3,"t":"c","a":87.5,"v":8.4e-4},{"p":3,"t":"c","a":94,"v":8.9e-4},{"p":3,"t":"c","a":101,"v":7.9e-4},{"p":3,"t":"c","a":107,"v":6.9e-4},{"p":3,"t":"c","a":114,"v":5.9e-4},
{"p":3,"t":"s","a":31,"v":1.07e-3},{"p":3,"t":"s","a":41,"v":3.4e-4},{"p":3,"t":"s","a":51,"v":4.1e-5},{"p":3,"t":"s","a":68,"v":9.8e-6},{"p":3,"t":"s","a":75,"v":2.2e-5},{"p":3,"t":"s","a":91,"v":2.3e-5},{"p":3,"t":"s","a":111,"v":1.66e-5},{"p":3,"t":"s","a":130.6,"v":4.1e-6},{"p":3,"t":"s","a":150,"v":1.8e-5},
{"p":3,"t":"c","a":33,"v":6e-4},{"p":3,"t":"c","a":39.8,"v":3.5e-4},{"p":3,"t":"c","a":44.6,"v":1.7e-4},{"p":3,"t":"c","a":49.4,"v":8.1e-5},{"p":3,"t":"c","a":53.7,"v":2.7e-5},{"p":3,"t":"c","a":59.4,"v":5.8e-6},{"p":3,"t":"c","a":65.8,"v":7.3e-6},{"p":3,"t":"c","a":70,"v":1.3e-5},{"p":3,"t":"c","a":75,"v":1.7e-5},{"p":3,"t":"c","a":80,"v":2.0e-5},{"p":3,"t":"c","a":85.6,"v":2.15e-5},{"p":3,"t":"c","a":91,"v":2.15e-5},{"p":3,"t":"c","a":96,"v":2.0e-5},{"p":3,"t":"c","a":101,"v":1.9e-5},{"p":3,"t":"c","a":106,"v":1.8e-5},{"p":3,"t":"c","a":110.6,"v":1.55e-5},{"p":3,"t":"c","a":115,"v":1.23e-5},{"p":3,"t":"c","a":119.6,"v":8.7e-6},{"p":3,"t":"c","a":124.5,"v":5.1e-6},{"p":3,"t":"c","a":130,"v":2.9e-6},{"p":3,"t":"c","a":136,"v":2.7e-6},{"p":3,"t":"c","a":142,"v":5.8e-6},{"p":3,"t":"c","a":146.6,"v":1.1e-5},{"p":3,"t":"c","a":151,"v":1.45e-5},{"p":3,"t":"c","a":156,"v":2.1e-5}
],
"labels":[
{"p":1,"k":"m","a":13.8,"v":2440,"s":"x 1"},
{"p":1,"k":"m","a":13.8,"v":39,"s":"x 30⁻¹"},
{"p":1,"k":"m","a":13.8,"v":1.43,"s":"x 30⁻²"},
{"p":1,"k":"m","a":13.8,"v":0.064,"s":"x 30⁻³"},
{"p":1,"k":"m","a":13.8,"v":0.0022,"s":"x 30⁻⁴"},
{"p":1,"k":"e","a":175,"v":490,"s":"Eₙ=1.3 MeV"},
{"p":1,"k":"e","a":175,"v":17.4,"s":"Eₙ=1.5 MeV"},
{"p":1,"k":"e","a":175,"v":0.885,"s":"Eₙ=1.8 MeV"},
{"p":1,"k":"e","a":175,"v":0.0162,"s":"Eₙ=2.0 MeV"},
{"p":1,"k":"e","a":178,"v":6.9e-4,"s":"Eₙ=2.25 MeV"},
{"p":1,"k":"x","a":66,"v":0.4,"s":"Morozov (1.8 MeV)"},
{"p":1,"k":"x","a":66,"v":3.1e-4,"s":"Rodgers (2.33 MeV)"},
{"p":2,"k":"m","a":16.7,"v":1860,"s":"x 1"},
{"p":2,"k":"m","a":16.7,"v":60,"s":"x 30⁻¹"},
{"p":2,"k":"m","a":16.7,"v":1.8,"s":"x 30⁻²"},
{"p":2,"k":"m","a":16.7,"v":0.06,"s":"x 30⁻³"},
{"p":2,"k":"m","a":17.5,"v":0.0026,"s":"x 30⁻⁴"},
{"p":2,"k":"e","a":176,"v":292,"s":"Eₙ=2.5 MeV"},
{"p":2,"k":"e","a":178,"v":8.1,"s":"Eₙ=2.75 MeV"},
{"p":2,"k":"e","a":176,"v":0.25,"s":"Eₙ=3.0 MeV"},
{"p":2,"k":"e","a":176,"v":0.0143,"s":"Eₙ=3.5 MeV"},
{"p":2,"k":"e","a":176,"v":1.48e-4,"s":"Eₙ=4.0 MeV"},
{"p":2,"k":"x","a":68.8,"v":0.0079,"s":"Schweitzer (3.4 MeV)"},
{"p":3,"k":"m","a":15.6,"v":2750,"s":"x 1"},
{"p":3,"k":"m","a":15.6,"v":108,"s":"x 30⁻¹"},
{"p":3,"k":"m","a":15.6,"v":3.05,"s":"x 30⁻²"},
{"p":3,"k":"m","a":14.8,"v":0.111,"s":"x 30⁻³"},
{"p":3,"k":"m","a":15.6,"v":0.0034,"s":"x 30⁻⁴"},
{"p":3,"k":"e","a":179,"v":328,"s":"Eₙ=4.6 MeV"},
{"p":3,"k":"e","a":179,"v":7.7,"s":"Eₙ=4.90 MeV"},
{"p":3,"k":"e","a":179,"v":0.188,"s":"Eₙ=5.94 MeV"},
{"p":3,"k":"e","a":179,"v":0.0036,"s":"Eₙ=6.96 MeV"},
{"p":3,"k":"e","a":179,"v":8.3e-5,"s":"Eₙ=7.96 MeV"},
{"p":3,"k":"x","a":66,"v":167,"s":"Kinney (4.6 MeV)"},
{"p":3,"k":"x","a":66,"v":3.84,"s":"Boschung (5.05 MeV)"},
{"p":3,"k":"x","a":66,"v":0.089,"s":"Kinney (6.12 MeV)"},
{"p":3,"k":"x","a":66,"v":0.0019,"s":"Kinney (6.53 MeV)"},
{"p":3,"k":"x","a":65,"v":4.1e-5,"s":"El-Kadi (7.96 MeV)"}
]
},
"hconcat":[
{
"width":312,"height":645,
"encoding":{
"x":{"field":"a","type":"quantitative","scale":{"domain":[0,180],"nice":false,"zero":false},
 "axis":{"title":null,"values":[0,5,10,15,20,25,30,35,40,45,50,55,60,65,70,75,80,85,90,95,100,105,110,115,120,125,130,135,140,145,150,155,160,165,170,175,180],"labelExpr":"datum.value % 30 == 0 ? datum.label : ''","tickSize":{"condition":{"test":"datum.value % 30 == 0","value":-16},"value":-8},"labelPadding":{"condition":{"test":"datum.value % 30 == 0","value":17},"value":9}}},
"y":{"field":"v","type":"quantitative","scale":{"type":"log","domain":[1e-5,1e4],"nice":false},
 "axis":{"title":"Cross section (mb/sr)","titlePadding":14,"values":[1e-5,2e-5,3e-5,4e-5,5e-5,6e-5,7e-5,8e-5,9e-5,1e-4,2e-4,3e-4,4e-4,5e-4,6e-4,7e-4,8e-4,9e-4,1e-3,2e-3,3e-3,4e-3,5e-3,6e-3,7e-3,8e-3,9e-3,0.01,0.02,0.03,0.04,0.05,0.06,0.07,0.08,0.09,0.1,0.2,0.3,0.4,0.5,0.6,0.7,0.8,0.9,1,2,3,4,5,6,7,8,9,10,20,30,40,50,60,70,80,90,100,200,300,400,500,600,700,800,900,1000,2000,3000,4000,5000,6000,7000,8000,9000,10000],
 "labelExpr":"abs(log(datum.value)/LN10 - round(log(datum.value)/LN10)) < 0.01 ? (round(log(datum.value)/LN10) == 0 ? '1' : round(log(datum.value)/LN10) == 1 ? '10' : '10' + ['⁻⁶','⁻⁵','⁻⁴','⁻³','⁻²','⁻¹','⁰','¹','²','³','⁴'][round(log(datum.value)/LN10) + 6]) : ''",
 "tickSize":{"condition":{"test":"abs(log(datum.value)/LN10 - round(log(datum.value)/LN10)) < 0.01","value":-23},"value":-12},"labelPadding":{"condition":{"test":"abs(log(datum.value)/LN10 - round(log(datum.value)/LN10)) < 0.01","value":26},"value":15},"domainColor":"red","domainWidth":2}}
},
"layer":[
{"data":{"name":"curves"},"transform":[{"filter":"datum.p == 1"},{"fold":["E","J","D","T"],"as":["lib","v"]}],
 "mark":{"type":"line","interpolate":"monotone","strokeWidth":1.5,"clip":true},
 "encoding":{
  "color":{"field":"lib","type":"nominal","scale":{"domain":["E","J","D","T"],"range":["#000000","#00cc00","#0000ff","#ff0000"]},
   "legend":{"title":null,"orient":"none","legendX":144,"legendY":2,"clipHeight":17,"labelExpr":"datum.label == 'E' ? 'ENDF/B-VII.I' : datum.label == 'J' ? 'JEFF-3.1' : datum.label == 'D' ? 'JENDL-4.0' : 'TALYS-default'","labelFont":"Liberation Sans","labelFontSize":19,"labelFontStyle":"italic","labelFontWeight":"bold","labelColor":"#222","symbolSize":784,"symbolStrokeWidth":2,"rowPadding":0,"labelOffset":8,"padding":0}},
  "strokeDash":{"field":"lib","type":"nominal","scale":{"domain":["E","J","D","T"],"range":[[3,2],[6,2],[4,2,1,2],[5,2,1,2]]},
   "legend":{"title":null,"orient":"none","legendX":144,"legendY":2,"clipHeight":17,"labelExpr":"datum.label == 'E' ? 'ENDF/B-VII.I' : datum.label == 'J' ? 'JEFF-3.1' : datum.label == 'D' ? 'JENDL-4.0' : 'TALYS-default'","labelFont":"Liberation Sans","labelFontSize":19,"labelFontStyle":"italic","labelFontWeight":"bold","labelColor":"#222","symbolSize":784,"symbolStrokeWidth":2,"rowPadding":0,"labelOffset":8,"padding":0}},
  "detail":{"field":"e"}}},
{"data":{"name":"exp"},"transform":[{"filter":"datum.p == 1 && datum.t == 's'"}],
 "mark":{"type":"point","shape":"square","filled":true,"color":"#ff00ff","size":75,"opacity":1}},
{"data":{"name":"exp"},"transform":[{"filter":"datum.p == 1 && datum.t == 'c'"}],
 "mark":{"type":"point","shape":"circle","filled":false,"color":"#000000","size":80,"strokeWidth":1.5,"opacity":1}},
{"data":{"name":"labels"},"transform":[{"filter":"datum.p == 1 && datum.k == 'm'"}],
 "mark":{"type":"text","align":"left","baseline":"middle","fontSize":16,"font":"Liberation Sans","color":"#222"},"encoding":{"text":{"field":"s"}}},
{"data":{"name":"labels"},"transform":[{"filter":"datum.p == 1 && datum.k == 'e'"}],
 "mark":{"type":"text","align":"right","baseline":"middle","fontSize":16,"font":"Liberation Sans","color":"#222"},"encoding":{"text":{"field":"s"}}},
{"data":{"name":"labels"},"transform":[{"filter":"datum.p == 1 && datum.k == 'x'"}],
 "mark":{"type":"point","shape":"circle","filled":false,"color":"#000000","size":80,"strokeWidth":1.5,"opacity":1}},
{"data":{"name":"labels"},"transform":[{"filter":"datum.p == 1 && datum.k == 'x'"}],
 "mark":{"type":"text","align":"left","baseline":"middle","dx":8,"fontSize":14,"font":"Liberation Sans","color":"#222"},"encoding":{"text":{"field":"s"}}}
]
},
{
"width":313,"height":645,
"encoding":{
"x":{"field":"a","type":"quantitative","scale":{"domain":[0,180],"nice":false,"zero":false},
 "axis":{"title":"Angle (degree)","titlePadding":4,"values":[0,5,10,15,20,25,30,35,40,45,50,55,60,65,70,75,80,85,90,95,100,105,110,115,120,125,130,135,140,145,150,155,160,165,170,175,180],"labelExpr":"datum.value % 30 == 0 ? datum.label : ''","tickSize":{"condition":{"test":"datum.value % 30 == 0","value":-16},"value":-8},"labelPadding":{"condition":{"test":"datum.value % 30 == 0","value":17},"value":9}}},
"y":{"field":"v","type":"quantitative","scale":{"type":"log","domain":[1e-5,4860],"nice":false},
 "axis":{"title":null,"values":[1e-5,2e-5,3e-5,4e-5,5e-5,6e-5,7e-5,8e-5,9e-5,1e-4,2e-4,3e-4,4e-4,5e-4,6e-4,7e-4,8e-4,9e-4,1e-3,2e-3,3e-3,4e-3,5e-3,6e-3,7e-3,8e-3,9e-3,0.01,0.02,0.03,0.04,0.05,0.06,0.07,0.08,0.09,0.1,0.2,0.3,0.4,0.5,0.6,0.7,0.8,0.9,1,2,3,4,5,6,7,8,9,10,20,30,40,50,60,70,80,90,100,200,300,400,500,600,700,800,900,1000,2000,3000,4000],
 "labelExpr":"abs(log(datum.value)/LN10 - round(log(datum.value)/LN10)) < 0.01 ? (round(log(datum.value)/LN10) == 0 ? '1' : round(log(datum.value)/LN10) == 1 ? '10' : '10' + ['⁻⁶','⁻⁵','⁻⁴','⁻³','⁻²','⁻¹','⁰','¹','²','³','⁴'][round(log(datum.value)/LN10) + 6]) : ''",
 "tickSize":{"condition":{"test":"abs(log(datum.value)/LN10 - round(log(datum.value)/LN10)) < 0.01","value":-23},"value":-12},"labelPadding":{"condition":{"test":"abs(log(datum.value)/LN10 - round(log(datum.value)/LN10)) < 0.01","value":26},"value":15},"domainColor":"red","domainWidth":2}}
},
"layer":[
{"data":{"name":"curves"},"transform":[{"filter":"datum.p == 2"},{"fold":["E","J","D","T"],"as":["lib","v"]}],
 "mark":{"type":"line","interpolate":"monotone","strokeWidth":1.5,"clip":true},
 "encoding":{
  "color":{"field":"lib","type":"nominal","scale":{"domain":["E","J","D","T"],"range":["#000000","#00cc00","#0000ff","#ff0000"]},"legend":null},
  "strokeDash":{"field":"lib","type":"nominal","scale":{"domain":["E","J","D","T"],"range":[[3,2],[6,2],[4,2,1,2],[5,2,1,2]]},"legend":null},
  "detail":{"field":"e"}}},
{"data":{"name":"exp"},"transform":[{"filter":"datum.p == 2 && datum.t == 's'"}],
 "mark":{"type":"point","shape":"square","filled":true,"color":"#ff00ff","size":75,"opacity":1}},
{"data":{"name":"exp"},"transform":[{"filter":"datum.p == 2 && datum.t == 'c'"}],
 "mark":{"type":"point","shape":"circle","filled":false,"color":"#000000","size":80,"strokeWidth":1.5,"opacity":1}},
{"data":{"name":"labels"},"transform":[{"filter":"datum.p == 2 && datum.k == 'm'"}],
 "mark":{"type":"text","align":"left","baseline":"middle","fontSize":16,"font":"Liberation Sans","color":"#222"},"encoding":{"text":{"field":"s"}}},
{"data":{"name":"labels"},"transform":[{"filter":"datum.p == 2 && datum.k == 'e'"}],
 "mark":{"type":"text","align":"right","baseline":"middle","fontSize":16,"font":"Liberation Sans","color":"#222"},"encoding":{"text":{"field":"s"}}},
{"data":{"name":"labels"},"transform":[{"filter":"datum.p == 2 && datum.k == 'x'"}],
 "mark":{"type":"point","shape":"circle","filled":false,"color":"#000000","size":80,"strokeWidth":1.5,"opacity":1}},
{"data":{"name":"labels"},"transform":[{"filter":"datum.p == 2 && datum.k == 'x'"}],
 "mark":{"type":"text","align":"left","baseline":"middle","dx":8,"fontSize":14,"font":"Liberation Sans","color":"#222"},"encoding":{"text":{"field":"s"}}}
]
},
{
"width":312,"height":645,
"encoding":{
"x":{"field":"a","type":"quantitative","scale":{"domain":[0,180],"nice":false,"zero":false},
 "axis":{"title":null,"values":[0,5,10,15,20,25,30,35,40,45,50,55,60,65,70,75,80,85,90,95,100,105,110,115,120,125,130,135,140,145,150,155,160,165,170,175,180],"labelExpr":"datum.value % 30 == 0 ? datum.label : ''","tickSize":{"condition":{"test":"datum.value % 30 == 0","value":-16},"value":-8},"labelPadding":{"condition":{"test":"datum.value % 30 == 0","value":17},"value":9}}},
"y":{"field":"v","type":"quantitative","scale":{"type":"log","domain":[1e-6,5400],"nice":false},
 "axis":{"title":null,"values":[1e-6,2e-6,3e-6,4e-6,5e-6,6e-6,7e-6,8e-6,9e-6,1e-5,2e-5,3e-5,4e-5,5e-5,6e-5,7e-5,8e-5,9e-5,1e-4,2e-4,3e-4,4e-4,5e-4,6e-4,7e-4,8e-4,9e-4,1e-3,2e-3,3e-3,4e-3,5e-3,6e-3,7e-3,8e-3,9e-3,0.01,0.02,0.03,0.04,0.05,0.06,0.07,0.08,0.09,0.1,0.2,0.3,0.4,0.5,0.6,0.7,0.8,0.9,1,2,3,4,5,6,7,8,9,10,20,30,40,50,60,70,80,90,100,200,300,400,500,600,700,800,900,1000,2000,3000,4000,5000],
 "labelExpr":"abs(log(datum.value)/LN10 - round(log(datum.value)/LN10)) < 0.01 ? (round(log(datum.value)/LN10) == 0 ? '1' : round(log(datum.value)/LN10) == 1 ? '10' : '10' + ['⁻⁶','⁻⁵','⁻⁴','⁻³','⁻²','⁻¹','⁰','¹','²','³','⁴'][round(log(datum.value)/LN10) + 6]) : ''",
 "tickSize":{"condition":{"test":"abs(log(datum.value)/LN10 - round(log(datum.value)/LN10)) < 0.01","value":-23},"value":-12},"labelPadding":{"condition":{"test":"abs(log(datum.value)/LN10 - round(log(datum.value)/LN10)) < 0.01","value":26},"value":15},"domainColor":"red","domainWidth":2}}
},
"layer":[
{"data":{"name":"curves"},"transform":[{"filter":"datum.p == 3"},{"fold":["E","J","D","T"],"as":["lib","v"]}],
 "mark":{"type":"line","interpolate":"monotone","strokeWidth":1.5,"clip":true},
 "encoding":{
  "color":{"field":"lib","type":"nominal","scale":{"domain":["E","J","D","T"],"range":["#000000","#00cc00","#0000ff","#ff0000"]},"legend":null},
  "strokeDash":{"field":"lib","type":"nominal","scale":{"domain":["E","J","D","T"],"range":[[3,2],[6,2],[4,2,1,2],[5,2,1,2]]},"legend":null},
  "detail":{"field":"e"}}},
{"data":{"name":"exp"},"transform":[{"filter":"datum.p == 3 && datum.t == 's'"}],
 "mark":{"type":"point","shape":"square","filled":true,"color":"#ff00ff","size":75,"opacity":1}},
{"data":{"name":"exp"},"transform":[{"filter":"datum.p == 3 && datum.t == 'c'"}],
 "mark":{"type":"point","shape":"circle","filled":false,"color":"#000000","size":80,"strokeWidth":1.5,"opacity":1}},
{"data":{"name":"labels"},"transform":[{"filter":"datum.p == 3 && datum.k == 'm'"}],
 "mark":{"type":"text","align":"left","baseline":"middle","fontSize":16,"font":"Liberation Sans","color":"#222"},"encoding":{"text":{"field":"s"}}},
{"data":{"name":"labels"},"transform":[{"filter":"datum.p == 3 && datum.k == 'e'"}],
 "mark":{"type":"text","align":"right","baseline":"middle","fontSize":16,"font":"Liberation Sans","color":"#222"},"encoding":{"text":{"field":"s"}}},
{"data":{"name":"labels"},"transform":[{"filter":"datum.p == 3 && datum.k == 'x'"}],
 "mark":{"type":"point","shape":"circle","filled":false,"color":"#000000","size":80,"strokeWidth":1.5,"opacity":1}},
{"data":{"name":"labels"},"transform":[{"filter":"datum.p == 3 && datum.k == 'x'"}],
 "mark":{"type":"text","align":"left","baseline":"middle","dx":8,"fontSize":14,"font":"Liberation Sans","color":"#222"},"encoding":{"text":{"field":"s"}}}
]
}
],
"spacing":66,
"bounds":"flush",
"resolve":{"scale":{"x":"independent","y":"independent","color":"independent","strokeDash":"independent"},"axis":{"x":"independent","y":"independent"},"legend":{"color":"independent","strokeDash":"independent"}},
"config":{
"view":{"stroke":"#000000","strokeWidth":1.5},
"font":"Liberation Sans",
"axis":{"labelFont":"Liberation Sans","labelFontSize":18,"labelColor":"#111","titleFont":"Liberation Sans","titleFontSize":18,"titleFontWeight":"normal","titleColor":"#111","grid":false,"tickColor":"#000000","tickWidth":1.5,"domainColor":"#000000","domainWidth":1.5,"labelOverlap":false,"labelFlush":false,"labelBound":false}
}
}
